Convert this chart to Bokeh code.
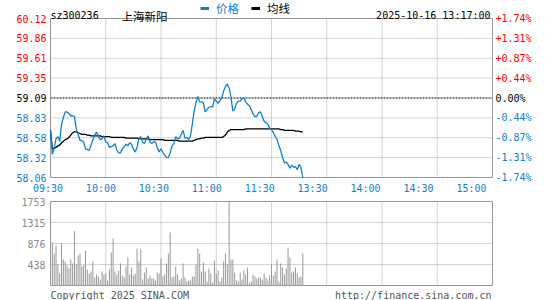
from bokeh.plotting import figure
from bokeh.layouts import column
from bokeh.models import (ColumnDataSource, LabelSet, Label, Range1d, Legend, LegendItem)
from bokeh.core.properties import value, field
from bokeh.embed import file_html
from bokeh.resources import INLINE

# ---------------- data ----------------
code = "sz300236"
name = "上海新阳"
timestamp = "2025-10-16 13:17:00"
legend_price = "价格"
legend_avg = "均线"
copyright_text = "Copyright 2025 SINA.COM"
url_text = "http://finance.sina.com.cn"

prev_close = 59.09
price_lo = 58.06
price_hi = 60.12
session_minutes = 240

price = [
    58.67, 58.36, 58.44, 58.56, 58.59, 58.53, 58.75, 58.84, 58.91, 58.91,
    58.89, 58.86, 58.86, 58.85, 58.69, 58.62, 58.54, 58.54, 58.52, 58.43,
    58.42, 58.41, 58.48, 58.55, 58.61, 58.65, 58.59, 58.55, 58.56, 58.60,
    58.52, 58.51, 58.45, 58.46, 58.47, 58.50, 58.42, 58.38, 58.38, 58.43,
    58.46, 58.49, 58.47, 58.51, 58.49, 58.43, 58.39, 58.45, 58.57, 58.59,
    58.52, 58.50, 58.56, 58.60, 58.52, 58.50, 58.52, 58.52, 58.45, 58.39,
    58.43, 58.39, 58.35, 58.32, 58.32, 58.38, 58.47, 58.50, 58.59, 58.56,
    58.57, 58.62, 58.67, 58.57, 58.58, 58.55, 58.60, 58.75, 58.92, 59.03,
    59.11, 59.04, 59.04, 59.03, 58.91, 58.94, 58.97, 58.98, 58.97, 59.08,
    59.05, 59.02, 59.06, 59.09, 59.18, 59.24, 59.27, 59.22, 59.10, 58.92,
    58.95, 59.02, 59.05, 59.05, 59.08, 59.09, 59.04, 59.01, 58.99, 58.94,
    58.88, 58.85, 58.85, 58.90, 58.91, 58.85, 58.79, 58.77, 58.75, 58.70,
    58.68, 58.64, 58.59, 58.56, 58.47, 58.41, 58.32, 58.25, 58.26, 58.23,
    58.18, 58.22, 58.19, 58.20, 58.16, 58.23, 58.19, 58.06,
]

avg_price = [
    58.67, 58.43, 58.44, 58.45, 58.47, 58.48, 58.51, 58.53, 58.55, 58.56,
    58.58, 58.61, 58.64, 58.65, 58.65, 58.64, 58.63, 58.62, 58.62, 58.62,
    58.61, 58.61, 58.60, 58.60, 58.60, 58.60, 58.60, 58.60, 58.59, 58.59,
    58.59, 58.59, 58.59, 58.58, 58.58, 58.58, 58.58, 58.58, 58.58, 58.58,
    58.58, 58.57, 58.57, 58.57, 58.57, 58.57, 58.57, 58.57, 58.56, 58.56,
    58.56, 58.56, 58.56, 58.56, 58.55, 58.55, 58.55, 58.55, 58.55, 58.55,
    58.55, 58.55, 58.54, 58.54, 58.54, 58.54, 58.54, 58.54, 58.54, 58.54,
    58.53, 58.53, 58.53, 58.53, 58.53, 58.53, 58.53, 58.53, 58.54, 58.55,
    58.56, 58.56, 58.57, 58.57, 58.58, 58.58, 58.58, 58.58, 58.58, 58.58,
    58.58, 58.58, 58.58, 58.58, 58.59, 58.61, 58.65, 58.67, 58.68, 58.68,
    58.68, 58.68, 58.68, 58.68, 58.68, 58.68, 58.69, 58.69, 58.69, 58.69,
    58.69, 58.69, 58.69, 58.69, 58.69, 58.69, 58.69, 58.69, 58.69, 58.69,
    58.69, 58.69, 58.69, 58.69, 58.69, 58.68, 58.68, 58.67, 58.67, 58.67,
    58.67, 58.67, 58.67, 58.66, 58.66, 58.66, 58.65, 58.65,
]

volume = [
    230, 904, 668, 835, 438, 250, 876, 543, 500, 417,
    362, 543, 459, 1134, 438, 626, 668, 403, 424, 730,
    334, 250, 292, 500, 167, 230, 188, 120, 292, 230,
    250, 104, 334, 689, 981, 292, 230, 313, 459, 209,
    167, 396, 584, 230, 375, 209, 250, 772, 500, 751,
    125, 271, 375, 146, 209, 146, 146, 104, 271, 250,
    563, 188, 230, 459, 668, 1106, 167, 188, 396, 230,
    104, 146, 459, 167, 83, 104, 104, 188, 188, 438,
    772, 668, 292, 480, 292, 83, 355, 250, 63, 522,
    250, 313, 83, 167, 500, 668, 438, 1753, 543, 543,
    271, 104, 83, 271, 125, 313, 230, 375, 63, 83,
    230, 188, 146, 167, 167, 125, 250, 167, 104, 209,
    438, 209, 292, 543, 83, 459, 375, 230, 355, 793,
    584, 271, 292, 375, 250, 167, 188, 668,
]

price_labels = ["58.06", "58.32", "58.58", "58.83", "59.09", "59.35", "59.61", "59.86", "60.12"]
pct_labels = ["-1.74%", "-1.31%", "-0.87%", "-0.44%", "0.00%", "+0.44%", "+0.87%", "+1.31%", "+1.74%"]
time_labels = ["09:30", "10:00", "10:30", "11:00", "11:30", "13:30", "14:00", "14:30", "15:00"]
vol_labels = ["438", "876", "1315", "1753"]

# ---------------- style / layout ----------------
FONT = "DejaVu Sans Mono"
CJK = "Noto Sans CJK SC"
BLUE = "#1280d0"
RED = "#ff0000"
GRID = "#a8a8a8"
FRAME = "#999999"
VOLC = "#999999"
LABGRAY = "#8a8a8a"
TXTGRAY = "#555555"

W = 545
FIG1_H, FIG2_H = 195, 105
FRAME_L, FRAME_R = 50, 492          # plot area, canvas pixels
P_TOP, P_BOT = 18, 177              # price area inside figure 1
V_TOP, V_BOT = 6, 90                # volume area inside figure 2

kx = (FRAME_R - FRAME_L) / session_minutes
x_range = Range1d(-FRAME_L / kx, session_minutes + (W - FRAME_R) / kx)

minutes = list(range(len(price)))
n_div = len(price_labels) - 1
levels = [price_lo + k * (price_hi - price_lo) / n_div for k in range(n_div + 1)]
grid_minutes = [k * session_minutes / (len(time_labels) - 1) for k in range(len(time_labels))]
inner_x = grid_minutes[1:-1]


def label_color(s):
    v = float(s)
    if v > prev_close:
        return RED
    if v < prev_close:
        return BLUE
    return "black"


def base_fig(height, y_lo, y_hi, top_px, bot_px):
    ky = (bot_px - top_px) / (y_hi - y_lo)
    yr = Range1d(y_lo - (height - bot_px) / ky, y_hi + top_px / ky)
    p = figure(width=W, height=height, x_range=x_range, y_range=yr,
               x_axis_location=None, y_axis_location=None,
               toolbar_location=None, output_backend="svg", min_border=0)
    p.min_border_left = p.min_border_right = p.min_border_top = p.min_border_bottom = 0
    p.outline_line_color = None
    p.grid.visible = False
    # dotted vertical grid (every 30 minutes)
    p.segment(x0=inner_x, x1=inner_x, y0=[y_lo] * len(inner_x), y1=[y_hi] * len(inner_x),
              line_color=GRID, line_width=1, line_dash="1 1")
    return p


# ---------------- price figure ----------------
p1 = base_fig(FIG1_H, price_lo, price_hi, P_TOP, P_BOT)
inner_y = [lv for i, lv in enumerate(levels) if 0 < i < n_div and i != n_div // 2]
p1.segment(x0=[0] * len(inner_y), x1=[session_minutes] * len(inner_y), y0=inner_y, y1=inner_y,
           line_color=GRID, line_width=1, line_dash="1 1")
p1.segment(x0=[0], x1=[session_minutes], y0=[prev_close], y1=[prev_close],
           line_color="black", line_width=1, line_dash="2 1")
p1.quad(left=[0], right=[session_minutes], bottom=[price_lo], top=[price_hi],
        fill_color=None, line_color=FRAME, line_width=1)

p1.line(minutes, avg_price, line_color="black", line_width=1.3)
p1.line(minutes, price, line_color=BLUE, line_width=1.3)

ysrc = ColumnDataSource(dict(
    y=levels, left=price_labels, right=pct_labels,
    color=[label_color(s) for s in price_labels],
    xl=[0] * len(levels), xr=[session_minutes] * len(levels)))
p1.add_layout(LabelSet(x="xl", y="y", text="left", source=ysrc, x_offset=-4,
                       text_align="right", text_baseline="middle",
                       text_color=field("color"), text_font=value(FONT),
                       text_font_size=value("10px")))
p1.add_layout(LabelSet(x="xr", y="y", text="right", source=ysrc, x_offset=3,
                       text_align="left", text_baseline="middle",
                       text_color=field("color"), text_font=value(FONT),
                       text_font_size=value("10px")))

tsrc = ColumnDataSource(dict(
    x=[g * 0.958 - 1.36 for g in grid_minutes],
    y=[price_lo] * len(time_labels), text=time_labels))
p1.add_layout(LabelSet(x="x", y="y", text="text", source=tsrc, y_offset=-11,
                       text_align="center", text_baseline="middle",
                       text_color=BLUE, text_font=value(FONT),
                       text_font_size=value("10px")))

p1.add_layout(Label(x=0, y=price_hi, y_offset=3, text=code, text_align="left",
                    text_baseline="alphabetic", text_font=FONT,
                    text_font_size="10px", text_color="black"))
p1.add_layout(Label(x=0, y=price_hi, x_offset=71, y_offset=3, text=name,
                    text_align="left", text_baseline="alphabetic", text_font=CJK,
                    text_font_size="11.5px", text_color="black"))
p1.add_layout(Label(x=session_minutes, y=price_hi, x_offset=-2, y_offset=3,
                    text=timestamp, text_align="right", text_baseline="alphabetic",
                    text_font=FONT, text_font_size="10px", text_color="black"))

# hidden thick copies, used only for the legend swatches
leg_r1 = p1.line(minutes, price, line_color=BLUE, line_width=3, visible=False)
leg_r2 = p1.line(minutes, avg_price, line_color="black", line_width=3, visible=False)
for r, lab, col, lx in [(leg_r1, legend_price, BLUE, 200), (leg_r2, legend_avg, "black", 251)]:
    lg = Legend(items=[LegendItem(label=lab, renderers=[r])], location=(lx, FIG1_H - 16),
                orientation="horizontal", glyph_width=9, glyph_height=12,
                label_height=12, label_standoff=7, padding=0, margin=0,
                border_line_color=None, background_fill_alpha=0,
                label_text_font=CJK, label_text_font_size="11.5px",
                label_text_color=col)
    p1.add_layout(lg)

# ---------------- volume figure ----------------
vmax = max(volume)
vol_ticks = [vmax * k / len(vol_labels) for k in range(1, len(vol_labels) + 1)]

p2 = base_fig(FIG2_H, 0, vmax, V_TOP, V_BOT)
vy = vol_ticks[:-1]
p2.segment(x0=[0] * len(vy), x1=[session_minutes] * len(vy), y0=vy, y1=vy,
           line_color=GRID, line_width=1, line_dash="1 1")
p2.vbar(x=minutes, top=volume, width=0.55, fill_color=VOLC, line_color=None)
p2.quad(left=[0], right=[session_minutes], bottom=[0], top=[vmax],
        fill_color=None, line_color=FRAME, line_width=1)

vsrc = ColumnDataSource(dict(x=[0] * len(vol_ticks), y=vol_ticks, text=vol_labels))
p2.add_layout(LabelSet(x="x", y="y", text="text", source=vsrc, x_offset=-5,
                       text_align="right", text_baseline="middle",
                       text_color=LABGRAY, text_font=value(FONT),
                       text_font_size=value("10px")))

p2.add_layout(Label(x=0, y=0, y_offset=-10, text=copyright_text, text_align="left",
                    text_baseline="alphabetic", text_font=FONT,
                    text_font_size="10px", text_color=TXTGRAY))
p2.add_layout(Label(x=session_minutes, y=0, x_offset=-1, y_offset=-10, text=url_text,
                    text_align="right", text_baseline="alphabetic", text_font=FONT,
                    text_font_size="10px", text_color=TXTGRAY))

layout = column(p1, p2)
open("out.html", "w").write(file_html(layout, INLINE))
